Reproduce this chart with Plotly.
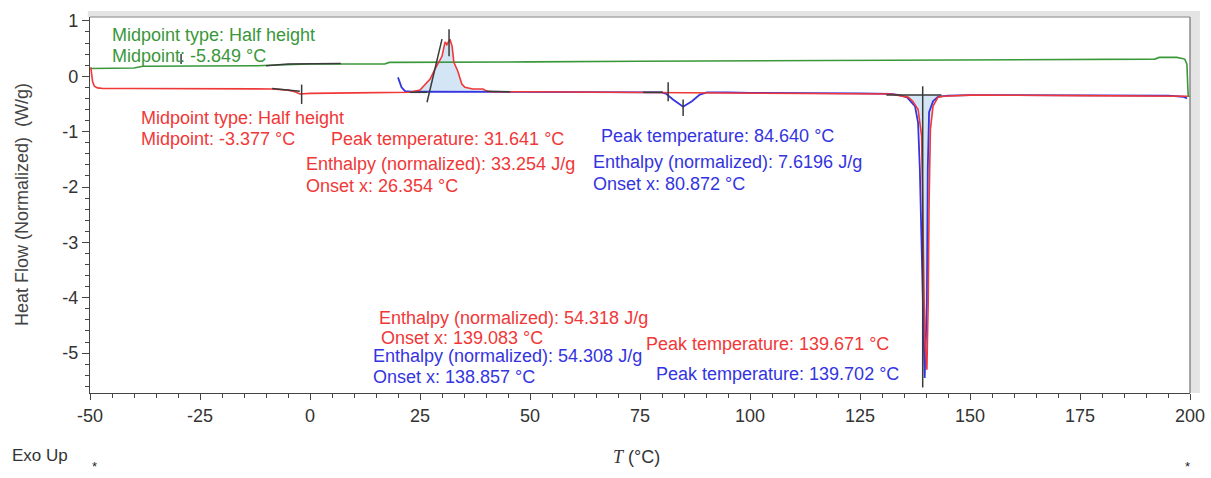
import plotly.graph_objects as go

# ---------------- data ----------------
green_T = [-50, -45, -40, -38, -30, -20, -12, -9, -6, -3, 0, 5, 10, 17, 18, 30, 50, 75,
           100, 125, 150, 175, 192, 193, 197, 198.8, 199.3, 199.5, 199.6, 200]
green_HF = [0.14, 0.14, 0.15, 0.18, 0.18, 0.19, 0.19, 0.20, 0.21, 0.22, 0.22, 0.22, 0.22, 0.22,
            0.25, 0.25, 0.26, 0.27, 0.28, 0.29, 0.30, 0.31, 0.31, 0.34, 0.34, 0.31, 0.22, -0.2, -0.36, -0.36]

red_T = [-49.8, -49.7, -49.6, -49.4, -49.0, -48.3, -47, -40, -30, -20, -12, -8.6, -5, -3.4, -2.3,
         0, 10, 20, 22.7, 25, 27.3, 28.4, 30, 30.7, 31.1, 31.8, 32.3, 32.7, 33.6, 34.5, 35.2, 37,
         39.3, 40.2, 41, 50, 75, 80, 85, 88, 92, 100, 125, 132, 134, 136, 137, 138.2, 139, 139.3,
         139.7, 140.2, 140.5, 140.7, 141, 141.6, 142.7, 143.9, 150, 175, 195, 199.5]
red_HF = [0.16, 0.12, 0.02, -0.1, -0.18, -0.21, -0.22, -0.22, -0.22, -0.23, -0.23, -0.23, -0.25,
          -0.28, -0.32, -0.31, -0.30, -0.30, -0.29, -0.25, -0.05, 0.13, 0.36, 0.62, 0.57, 0.67,
          0.54, 0.25, 0.09, -0.14, -0.2, -0.23, -0.23, -0.27, -0.28, -0.28, -0.29, -0.29, -0.30,
          -0.30, -0.30, -0.30, -0.31, -0.32, -0.35, -0.38, -0.45, -0.6, -1.08, -2.9, -4.7, -5.3,
          -4.1, -2.3, -0.96, -0.54, -0.38, -0.36, -0.34, -0.35, -0.35, -0.36]

blue_T = [20, 20.3, 20.8, 21.6, 23, 25, 30, 40, 50, 60, 75, 80, 81, 82.5, 84.8, 86.8, 88.6, 90.2,
          95, 100, 125, 132, 134, 135.7, 137.5, 138.2, 138.6, 139.1, 139.7, 140.2, 140.4, 140.7,
          141.6, 142.7, 145, 150, 175, 195, 198.5, 199.3]
blue_HF = [-0.02, -0.1, -0.2, -0.27, -0.28, -0.28, -0.28, -0.28, -0.29, -0.29, -0.29, -0.29, -0.32,
           -0.42, -0.55, -0.45, -0.33, -0.29, -0.29, -0.30, -0.31, -0.32, -0.34, -0.38, -0.54, -0.84,
           -1.68, -3.5, -5.45, -4.1, -1.68, -0.65, -0.45, -0.37, -0.35, -0.34, -0.35, -0.35, -0.37, -0.40]

# analysis construction lines (tangents / markers), None separates segments
mark_T = [-10, -5, 7, None, -29.3, -29.3, None, -8.6, -2.3, None, -1.9, -1.9, None,
          26.6, 30, None, 31.6, 31.6, None, 22.7, 26.6, None, 40, 45.5, None,
          75.7, 80.2, None, 81.4, 81.4, None, 84.8, 84.8, None,
          131, 143.5, None, 139.25, 139.25]
mark_HF = [0.19, 0.22, 0.23, None, 0.40, 0.22, None, -0.22, -0.27, None, -0.15, -0.5, None,
           -0.47, 0.67, None, 0.85, 0.36, None, -0.29, -0.29, None, -0.27, -0.28, None,
           -0.29, -0.29, None, -0.11, -0.45, None, -0.42, -0.72, None,
           -0.34, -0.34, None, -0.18, -5.62]

# integration limits and baselines of the shaded peaks
peak_limits = [(22.7, 40.2, -0.29), (132, 143.9, -0.34)]

x_ticks = [-50, -25, 0, 25, 50, 75, 100, 125, 150, 175, 200]
x_tick_labels = ["-50", "-25", "0", "25", "50", "75", "100", "125", "150", "175", "200"]
y_ticks = [1, 0, -1, -2, -3, -4, -5]
y_tick_labels = ["1", "0", "-1", "-2", "-3", "-4", "-5"]

GREEN = "#3a973a"
RED = "#f03838"
BLUE = "#3434e0"
FONT = "Liberation Sans, Arial, sans-serif"

labels = [
    ("Midpoint type: Half height", -45.5, 0.74, GREEN),
    ("Midpoint: -5.849 °C", -45.5, 0.36, GREEN),
    ("Midpoint type: Half height", -38.9, -0.76, RED),
    ("Midpoint: -3.377 °C", -38.9, -1.14, RED),
    ("Peak temperature: 31.641 °C", 4.3, -1.14, RED),
    ("Enthalpy (normalized): 33.254 J/g", -1.3, -1.59, RED),
    ("Onset x: 26.354 °C", -1.3, -1.99, RED),
    ("Peak temperature: 84.640 °C", 65.7, -1.07, BLUE),
    ("Enthalpy (normalized): 7.6196 J/g", 63.9, -1.54, BLUE),
    ("Onset x: 80.872 °C", 63.9, -1.94, BLUE),
    ("Enthalpy (normalized): 54.318 J/g", 15.3, -4.37, RED),
    ("Onset x: 139.083 °C", 15.7, -4.73, RED),
    ("Enthalpy (normalized): 54.308 J/g", 13.9, -5.05, BLUE),
    ("Onset x: 138.857 °C", 13.9, -5.43, BLUE),
    ("Peak temperature: 139.671 °C", 75.9, -4.84, RED),
    ("Peak temperature: 139.702 °C", 78.2, -5.38, BLUE),
]

# ---------------- figure ----------------
fig = go.Figure()

for lo, hi, base in peak_limits:
    xs = [t for t in red_T if lo <= t <= hi]
    ys = [h for t, h in zip(red_T, red_HF) if lo <= t <= hi]
    fig.add_trace(go.Scatter(x=xs + [hi, lo], y=ys + [base, base], fill="toself",
                             fillcolor="rgba(205,226,245,0.85)", line=dict(width=0),
                             mode="lines", hoverinfo="skip", showlegend=False))

fig.add_trace(go.Scatter(x=green_T, y=green_HF, mode="lines",
                         line=dict(color=GREEN, width=1.6), showlegend=False))
fig.add_trace(go.Scatter(x=blue_T, y=blue_HF, mode="lines",
                         line=dict(color=BLUE, width=1.8), showlegend=False))
fig.add_trace(go.Scatter(x=red_T, y=red_HF, mode="lines",
                         line=dict(color=RED, width=1.6), showlegend=False))
fig.add_trace(go.Scatter(x=mark_T, y=mark_HF, mode="lines", connectgaps=False,
                         line=dict(color="#3a3a3a", width=1.5), showlegend=False))

for text, x, y, col in labels:
    fig.add_annotation(x=x, y=y, text=text, showarrow=False, xanchor="left", yanchor="middle",
                       font=dict(family=FONT, size=18, color=col))

# axis titles and corner marks
fig.add_annotation(xref="paper", yref="paper", x=-0.0618, y=0.5, xanchor="center", yanchor="middle",
                   text="Heat Flow (Normalized)  (W/g)",
                   textangle=-90, showarrow=False, font=dict(family=FONT, size=18, color="#444"))
fig.add_annotation(xref="paper", yref="paper", x=0.497, y=-0.17, xanchor="center", yanchor="middle",
                   text="<span style='font-family:Liberation Serif;font-style:italic'>T</span> (°C)",
                   showarrow=False, font=dict(family=FONT, size=18, color="#333"))
fig.add_annotation(xref="paper", yref="paper", x=-0.0727, y=-0.165, xanchor="left", yanchor="middle",
                   text="Exo Up", showarrow=False, font=dict(family=FONT, size=17, color="#333"))
fig.add_annotation(xref="paper", yref="paper", x=0.0045, y=-0.196, xanchor="center", yanchor="middle",
                   text="*", showarrow=False, font=dict(family=FONT, size=13, color="#222"))
fig.add_annotation(xref="paper", yref="paper", x=0.998, y=-0.196, xanchor="center", yanchor="middle",
                   text="*", showarrow=False, font=dict(family=FONT, size=13, color="#222"))

# bevelled frame on top / right
fig.add_shape(type="rect", xref="paper", yref="paper", x0=-0.002, x1=1.009, y0=1.0, y1=1.016,
              fillcolor="#e4e4e4", line=dict(width=0), layer="above")
fig.add_shape(type="rect", xref="paper", yref="paper", x0=1.0, x1=1.009, y0=0, y1=1.016,
              fillcolor="#e4e4e4", line=dict(width=0), layer="above")
fig.add_shape(type="line", xref="paper", yref="paper", x0=0, x1=1, y0=1, y1=1,
              line=dict(color="#a8a8a8", width=1.5))
fig.add_shape(type="line", xref="paper", yref="paper", x0=1, x1=1, y0=0, y1=1,
              line=dict(color="#8a8a8a", width=1.5))

fig.update_xaxes(range=[-50, 200], tickvals=x_ticks, ticktext=x_tick_labels, automargin=False,
                 ticks="outside", ticklen=6, tickcolor="#444", showline=True, linecolor="#444",
                 linewidth=1.2, showgrid=False, zeroline=False,
                 tickfont=dict(family=FONT, size=18, color="#333"),
                 minor=dict(dtick=5, tick0=0, ticks="outside", ticklen=4, tickcolor="#444"))
fig.update_yaxes(range=[-5.72, 1.07], tickvals=y_ticks, ticktext=y_tick_labels, automargin=False,
                 ticks="outside", ticklen=7, tickcolor="#444", showline=True, linecolor="#444",
                 linewidth=1.2, showgrid=False, zeroline=False,
                 tickfont=dict(family=FONT, size=18, color="#333"),
                 minor=dict(dtick=0.2, tick0=0, ticks="outside", ticklen=4, tickcolor="#444"))

fig.update_layout(width=1211, height=478, margin=dict(l=90, r=21, t=17, b=85),
                  paper_bgcolor="white", plot_bgcolor="white", showlegend=False)

fig.write_html("out.html")
